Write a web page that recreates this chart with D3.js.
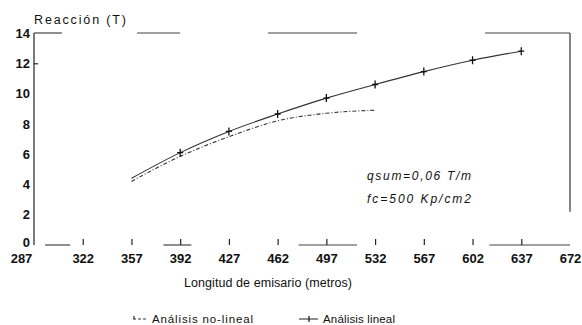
<!DOCTYPE html>
<html>
<head>
<meta charset="utf-8">
<script src="https://cdn.jsdelivr.net/npm/d3@7"></script>
<style>
  body { margin: 0; background: #fff; }
  svg { display: block; }
  text { font-family: "Liberation Sans", Arial, sans-serif; fill: #111; }
</style>
</head>
<body>
<svg id="chart" width="582" height="325"></svg>
<script>
// data
var xTicks = [287, 322, 357, 392, 427, 462, 497, 532, 567, 602, 637, 672]
var yTicks = [0, 2, 4, 6, 8, 10, 12, 14]
var linealX = [357, 392, 427, 462, 497, 532, 567, 602, 637]
var linealY = [4.4, 6.1, 7.5, 8.65, 9.7, 10.6, 11.45, 12.2, 12.8]
var noLinealX = [357, 392, 427, 462, 497, 532]
var noLinealY = [4.2, 5.85, 7.15, 8.2, 8.7, 8.9]
var notes = ["qsum=0,06 T/m", "fc=500 Kp/cm2"]

var margin = {top: 33, left: 34, right: 12, bottom: 80}
var width = 582, height = 325

var svg = d3.select("#chart")
var g = svg.append("g")

var xScale = d3.scaleLinear().domain([287, 672]).range([margin.left, width - margin.right])
var yScale = d3.scaleLinear().domain([0, 14]).range([height - margin.bottom, margin.top])

// frame (the scan only kept pieces of it)
var frameTop = [[287, 307], [361, 392], [455, 519], [611, 672]]
var frameBottom = [[295, 313], [380, 400], [477, 519], [614, 672]]

g.append("line")
  .attr("x1", xScale(287)).attr("x2", xScale(287))
  .attr("y1", yScale(0)).attr("y2", yScale(14))
  .attr("stroke", "#222").attr("stroke-width", 1.2)
g.append("line")
  .attr("x1", xScale(672)).attr("x2", xScale(672))
  .attr("y1", yScale(14)).attr("y2", yScale(2.2))
  .attr("stroke", "#333").attr("stroke-width", 1.2)
g.selectAll(".ftop").data(frameTop).enter().append("line")
  .attr("class", "ftop")
  .attr("x1", function(d) { return xScale(d[0]) }).attr("x2", function(d) { return xScale(d[1]) })
  .attr("y1", yScale(14)).attr("y2", yScale(14))
  .attr("stroke", "#444").attr("stroke-width", 1.2)
g.selectAll(".fbot").data(frameBottom).enter().append("line")
  .attr("class", "fbot")
  .attr("x1", function(d) { return xScale(d[0]) }).attr("x2", function(d) { return xScale(d[1]) })
  .attr("y1", yScale(0)).attr("y2", yScale(0))
  .attr("stroke", "#444").attr("stroke-width", 1.2)

// x axis: small ticks pointing up, labels below
var xAxis = d3.axisBottom(xScale).tickValues(xTicks).tickSize(0).tickPadding(9)
  .tickFormat(d3.format("d"))
var xg = g.append("g")
  .attr("transform", "translate(0," + yScale(0) + ")")
  .call(xAxis)
xg.select(".domain").remove()
xg.selectAll("text")
  .attr("font-size", 13).attr("font-weight", "bold").attr("fill", "#111")
  .attr("font-family", "Liberation Sans, Arial, sans-serif")
  .attr("dx", function(d) { return d == 287 ? -13 : 0 })
xg.selectAll(".tick").filter(function(d) { return d > 287 && d < 672 })
  .append("line")
  .attr("y1", 0).attr("y2", -6)
  .attr("stroke", "#222").attr("stroke-width", 1.2)

// y axis
var yAxis = d3.axisLeft(yScale).tickValues(yTicks).tickSize(0).tickPadding(4)
var yg = g.append("g")
  .attr("transform", "translate(" + xScale(287) + ",0)")
  .call(yAxis)
yg.select(".domain").remove()
yg.selectAll("text")
  .attr("font-size", 13).attr("font-weight", "bold").attr("fill", "#111")
  .attr("font-family", "Liberation Sans, Arial, sans-serif")
  .attr("y", function(d) { return d == 0 ? -3 : 0 })
yg.selectAll(".tick").filter(function(d) { return d == 12 })
  .append("line").attr("x1", 0).attr("x2", 4)
  .attr("stroke", "#222").attr("stroke-width", 1.2)

g.append("text")
  .attr("x", xScale(287)).attr("y", margin.top - 9)
  .attr("font-size", 12.5)
  .attr("textLength", 92).attr("lengthAdjust", "spacing")
  .text("Reacción (T)")

g.append("text")
  .attr("x", 268).attr("y", 287)
  .attr("text-anchor", "middle")
  .attr("font-size", 12.5)
  .attr("textLength", 168).attr("lengthAdjust", "spacing")
  .text("Longitud de emisario (metros)")

// lines
var lineal = linealX.map(function(x, i) { return {x: x, y: linealY[i]} })
var noLineal = noLinealX.map(function(x, i) { return {x: x, y: noLinealY[i]} })

var line = d3.line()
  .x(function(d) { return xScale(d.x) })
  .y(function(d) { return yScale(d.y) })
  .curve(d3.curveMonotoneX)

g.append("path")
  .datum(noLineal)
  .attr("fill", "none")
  .attr("stroke", "#333")
  .attr("stroke-width", 1.1)
  .attr("stroke-dasharray", "4,2,1,2")
  .attr("d", line)

g.append("path")
  .datum(lineal)
  .attr("fill", "none")
  .attr("stroke", "#333")
  .attr("stroke-width", 1.1)
  .attr("d", line)

g.selectAll(".plus").data(lineal.slice(1)).enter().append("path")
  .attr("class", "plus")
  .attr("transform", function(d) { return "translate(" + xScale(d.x) + "," + yScale(d.y) + ")" })
  .attr("d", "M-3,0H3M0,-4V4")
  .attr("stroke", "#111").attr("stroke-width", 1.3)

// annotation
g.selectAll(".note").data(notes).enter().append("text")
  .attr("class", "note")
  .attr("x", 367).attr("y", function(d, i) { return 180 + i * 23 })
  .attr("font-size", 12).attr("font-style", "italic")
  .attr("textLength", 104).attr("lengthAdjust", "spacing")
  .text(function(d) { return d })

// legend
var leg = g.append("g").attr("transform", "translate(0,319)")
leg.append("line").attr("x1", 133).attr("x2", 148).attr("y1", 0).attr("y2", 0)
  .attr("stroke", "#333").attr("stroke-width", 1.1).attr("stroke-dasharray", "3,2")
leg.append("path").attr("d", "M134,-3V0").attr("stroke", "#111")
leg.append("text").attr("x", 152).attr("y", 4).attr("font-size", 11.5)
  .attr("textLength", 101).attr("lengthAdjust", "spacing")
  .text("Análisis no-lineal")
leg.append("line").attr("x1", 299).attr("x2", 318).attr("y1", 0).attr("y2", 0)
  .attr("stroke", "#333").attr("stroke-width", 1.1)
leg.append("path").attr("d", "M309,-3V3").attr("stroke", "#111").attr("stroke-width", 1.2)
leg.append("text").attr("x", 323).attr("y", 4).attr("font-size", 11.5)
  .attr("textLength", 72).attr("lengthAdjust", "spacing")
  .text("Análisis lineal")
</script>
</body>
</html>
